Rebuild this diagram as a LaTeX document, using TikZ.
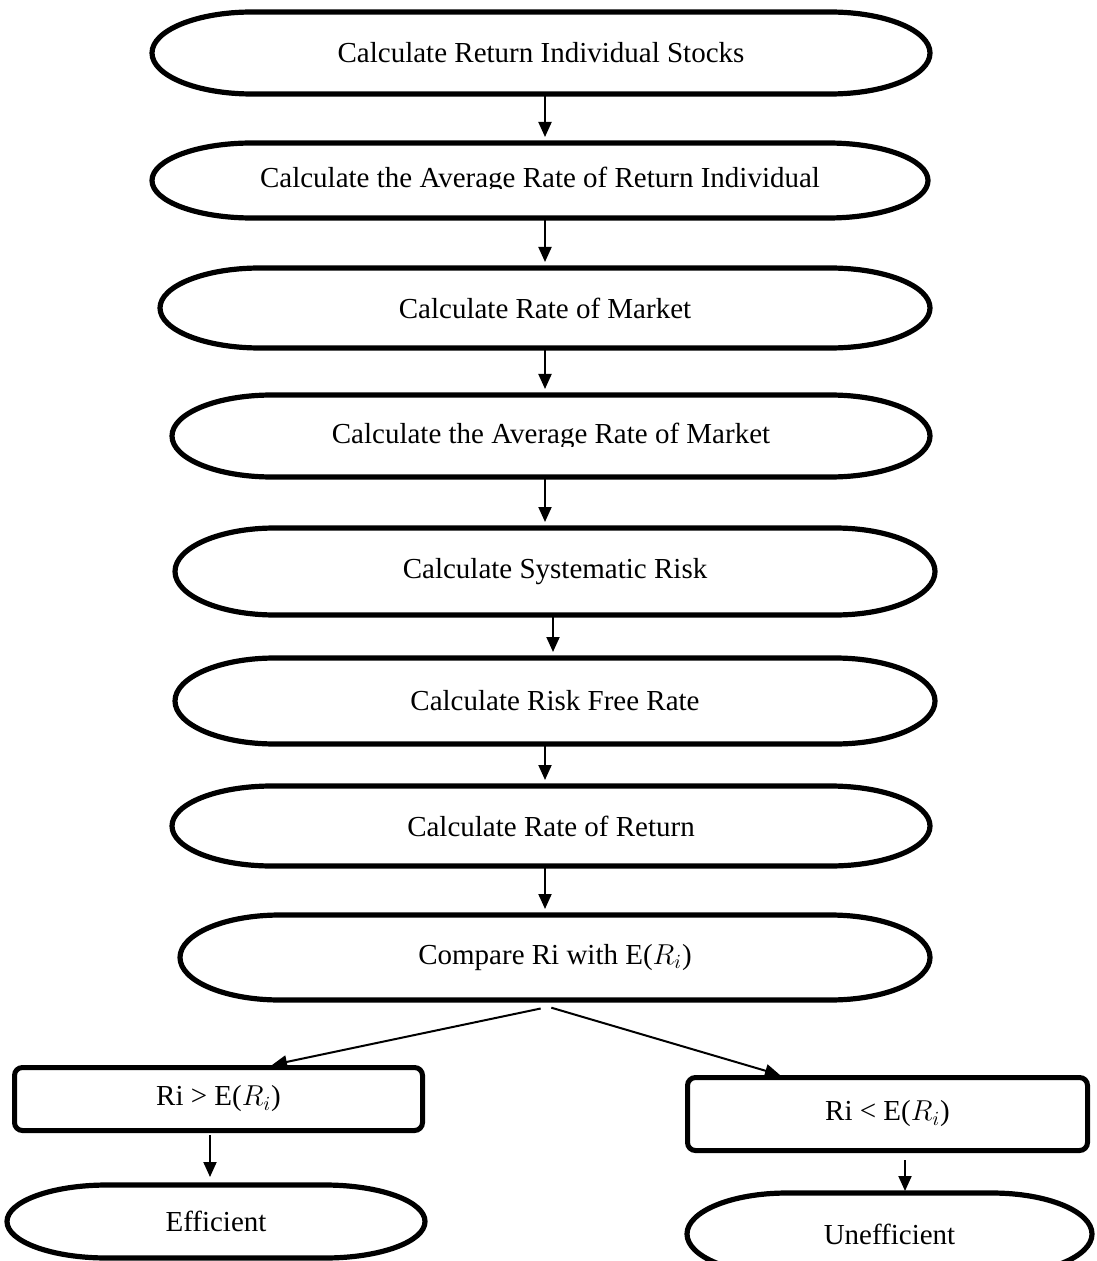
\documentclass[tikz,border=0pt]{standalone}
\usepackage{fontspec}
\setmainfont{Liberation Serif}
\usetikzlibrary{arrows.meta}

\begin{document}
\begin{tikzpicture}[x=1pt,y=1pt,
  term/.style={inner sep=0pt,outer sep=0pt,font=\fontsize{14.5}{17}\selectfont},
  decide/.style={draw,line width=2.5pt,rounded corners=4pt,inner sep=0pt,outer sep=1.25pt,font=\fontsize{14.5}{17}\selectfont},
  outline/.style={line width=2.6pt,line join=round},
  flow/.style={line width=1pt,-{Triangle[length=7.5pt,width=6.5pt]},shorten >=3pt,shorten <=1.2pt}]

\clip (0,0) rectangle (548,-630.5);

% the chain of steps
\draw (270.5,-26.5) node(CALCRET)[term,minimum width=389pt,minimum height=41pt]{Calculate Return Individual Stocks};
\begin{scope}
\clip (0,-40) rectangle (548,-94.5);
\draw (270,-90.25) node(AVGRET)[term,minimum width=388pt,minimum height=37.5pt]{Calculate the Average Rate of Return Individual};
\end{scope}
\draw (272.5,-154) node(RATEMKT)[term,minimum width=385pt,minimum height=40pt]{Calculate Rate of Market};
\begin{scope}
\clip (0,-180) rectangle (548,-223);
\draw (275.5,-218) node(AVGMKT)[term,minimum width=379pt,minimum height=41pt]{Calculate the Average Rate of Market};
\end{scope}
\draw (277.5,-285.75) node(SYSRISK)[term,minimum width=380pt,minimum height=43.5pt]{Calculate Systematic Risk};
\draw (277.5,-350.5) node(RISKFREE)[term,minimum width=380pt,minimum height=43pt]{Calculate Risk Free Rate};
\draw (275.5,-413) node(RATERET)[term,minimum width=379pt,minimum height=40pt]{Calculate Rate of Return};
\draw (277.5,-478.75) node(COMPARE)[term,minimum width=375pt,minimum height=42.5pt]{Compare Ri with E($R_i$)};

% the two outcomes
\draw (109.25,-549.5) node(GREATER)[decide,minimum width=204pt,minimum height=31.5pt]{Ri > E($R_i$)};
\draw (443.75,-557) node(LESS)[decide,minimum width=200pt,minimum height=36.5pt]{Ri < E($R_i$)};
\draw (108,-610.75) node(EFF)[term,minimum width=209pt,minimum height=36.5pt]{Efficient};
\draw (444.75,-617) node(UNEFF)[term,minimum width=202.5pt,minimum height=41pt]{Unefficient};

% stadium outlines
\foreach \n/\h in {CALCRET/20.5,AVGRET/18.75,RATEMKT/20,AVGMKT/20.5,SYSRISK/21.75,RISKFREE/21.5,RATERET/20,COMPARE/21.25,EFF/18.25,UNEFF/20.5}
  \draw[outline] ([xshift=50pt]\n.north west) -- ([xshift=-50pt]\n.north east)
    arc[start angle=90,end angle=-90,x radius=50,y radius=\h]
    -- ([xshift=50pt]\n.south west)
    arc[start angle=270,end angle=90,x radius=50,y radius=\h] -- cycle;

\coordinate (SPINE) at (272.5,0);
\coordinate (SPINETWO) at (276.5,0);
\coordinate (FORKL) at (271.5,-504);
\coordinate (FORKR) at (274.5,-503.5);
\coordinate (DROPL) at (105,0);
\coordinate (DROPR) at (452.5,0);

\draw[flow] (CALCRET.south -| SPINE) -- (AVGRET.north -| SPINE);
\draw[flow] (AVGRET.south -| SPINE) -- (RATEMKT.north -| SPINE);
\draw[flow] (RATEMKT.south -| SPINE) -- (AVGMKT.north -| SPINE);
\draw[flow] (AVGMKT.south -| SPINE) -- (SYSRISK.north -| SPINE);
\draw[flow] (SYSRISK.south -| SPINETWO) -- (RISKFREE.north -| SPINETWO);
\draw[flow] (RISKFREE.south -| SPINE) -- (RATERET.north -| SPINE);
\draw[flow] (RATERET.south -| SPINE) -- (COMPARE.north -| SPINE);

\draw[flow,shorten >=0pt] (FORKL) -- ([xshift=26.75pt]GREATER.north);
\draw[flow,shorten >=0pt] (FORKR) -- ([xshift=-53.75pt]LESS.north);

\draw[flow,shorten >=4pt] (GREATER.south -| DROPL) -- (EFF.north -| DROPL);
\draw[flow,shorten <=3.5pt,shorten >=1pt] (LESS.south -| DROPR) -- (UNEFF.north -| DROPR);

\end{tikzpicture}
\end{document}
